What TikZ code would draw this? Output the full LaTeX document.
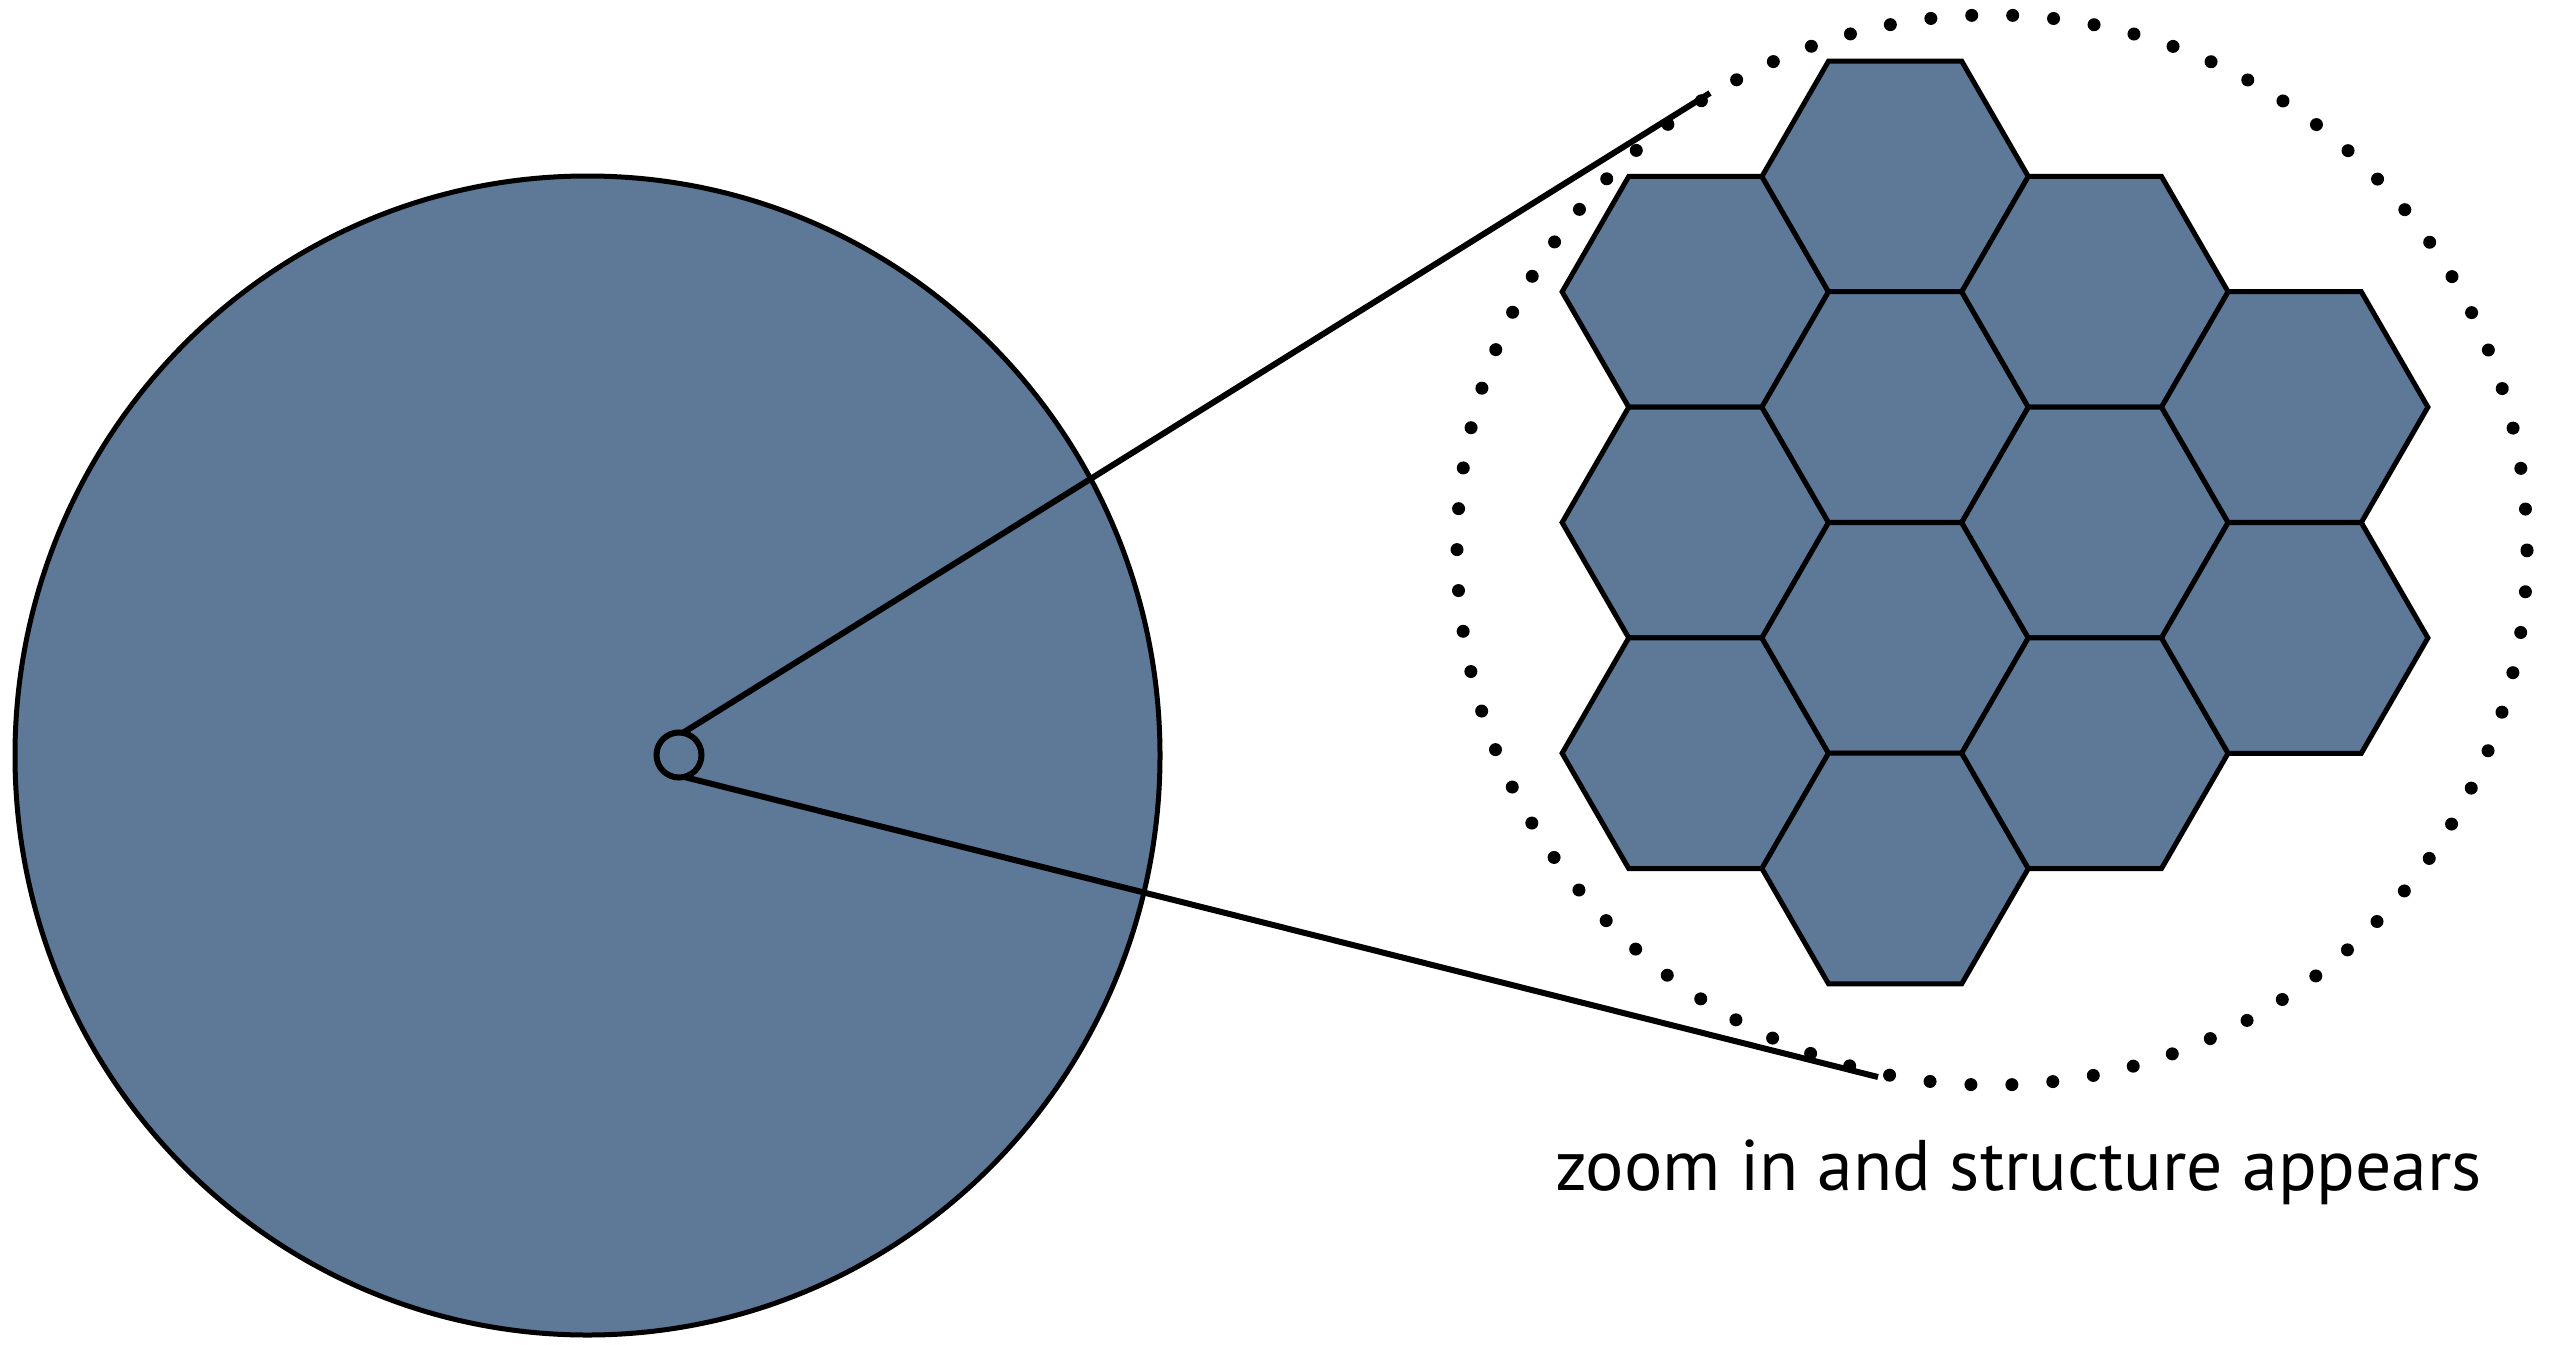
\documentclass[tikz,border=0pt]{standalone}
\usepackage{fontspec}
\usepackage{graphicx}
\setmainfont{PT Sans}
\usetikzlibrary{shapes.geometric}
\definecolor{slate}{RGB}{94,121,152}
\tikzset{
  hexa/.style={regular polygon, regular polygon sides=6, minimum size=266.4pt,
    inner sep=0pt, outer sep=0pt, draw=black, line width=5pt, fill=slate, line join=miter},
  zoomline/.style={line width=6pt, line cap=butt},
  dotring/.style={draw=black, line width=13pt, line cap=round, dash pattern=on 0pt off 40.99pt},
}
\begin{document}
\begin{tikzpicture}[x=1pt, y=-1pt]
\useasboundingbox (0,0) rectangle (2559,1344);
% big disc
\node[ellipse, draw=black, line width=5pt, fill=slate, minimum width=1145pt, minimum height=1159pt, inner sep=0pt, outer sep=0pt] (disc) at (587.5,755.5) {};
% small circle
\coordinate (e1) at (1710,93);
\coordinate (e2) at (1878,1077);
\node[circle, draw=black, line width=6pt, minimum size=45pt, inner sep=0pt, outer sep=0pt] (spot) at (679,755) {};
\draw[zoomline] (spot.80) -- (e1);
\draw[zoomline] (spot.-77) -- (e2);
% dotted ring
\node[circle, dotring, minimum size=1070pt, inner sep=0pt, outer sep=0pt] (ring) at (1992,550) {};
% hexagons
\node[hexa] (h1) at (1695.3,291.8) {};
\node[hexa] (h2) at (1695.3,522.5) {};
\node[hexa] (h3) at (1695.3,753.2) {};
\node[hexa] (h4) at (1895.1,176.5) {};
\node[hexa] (h5) at (1895.1,407.1) {};
\node[hexa] (h6) at (1895.1,637.9) {};
\node[hexa] (h7) at (1895.1,868.5) {};
\node[hexa] (h8) at (2094.9,291.8) {};
\node[hexa] (h9) at (2094.9,522.5) {};
\node[hexa] (h10) at (2094.9,753.2) {};
\node[hexa] (h11) at (2294.7,407.1) {};
\node[hexa] (h12) at (2294.7,637.9) {};
% caption
\node[anchor=base, inner sep=0pt] (cap) at (2018.5,1190) {\resizebox{927pt}{!}{\fontsize{70}{84}\selectfont zoom in and structure appears}};
\end{tikzpicture}
\end{document}
